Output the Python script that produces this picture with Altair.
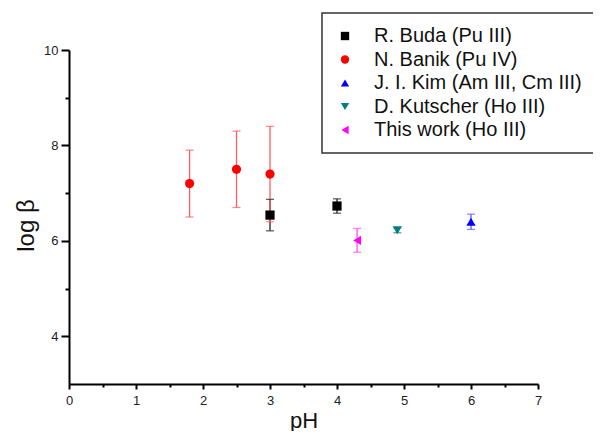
import altair as alt
import pandas as pd

# ---- data ----
series = ["R. Buda (Pu III)", "N. Banik (Pu IV)", "J. I. Kim (Am III, Cm III)",
          "D. Kutscher (Ho III)", "This work (Ho III)"]
colors = ["#000000", "#ff0000", "#0000ff", "#008080", "#ff00ff"]
err_colors = ["#222222", "#ff5c5c", "#5c5cff", "#1a6f6f", "#ff4dff"]
shapes = ["square", "circle", "triangle-up", "triangle-down", "triangle-left"]

buda_ph = [3.0, 4.0]
buda_logb = [6.54, 6.73]
buda_err = [0.33, 0.15]

banik_ph = [1.8, 2.5, 3.0]
banik_logb = [7.2, 7.5, 7.4]
banik_err = [0.7, 0.8, 1.0]

kim_ph = [6.0]
kim_logb = [6.40]
kim_err = [0.16]

kutscher_ph = [4.9]
kutscher_logb = [6.22]
kutscher_err = [0.05]

this_ph = [4.3]
this_logb = [6.01]
this_err = [0.25]

x_major = [0, 1, 2, 3, 4, 5, 6, 7]
x_minor = [0.5, 1.5, 2.5, 3.5, 4.5, 5.5, 6.5]
y_major = [4, 6, 8, 10]
y_minor = [5, 7, 9]

groups = [
    (buda_ph, buda_logb, buda_err),
    (banik_ph, banik_logb, banik_err),
    (kim_ph, kim_logb, kim_err),
    (kutscher_ph, kutscher_logb, kutscher_err),
    (this_ph, this_logb, this_err),
]

rows = []
for name, ecol, (phs, lbs, errs) in zip(series, err_colors, groups):
    for p, b, e in zip(phs, lbs, errs):
        rows.append({"series": name, "ph": p, "logb": b,
                     "lo": b - e, "hi": b + e, "ecolor": ecol})
df = pd.DataFrame(rows)

FONT = "Liberation Sans"

xscale = alt.Scale(domain=[0, 7], nice=False, zero=False)
yscale = alt.Scale(domain=[3, 10], nice=False, zero=False)

xaxis = alt.Axis(
    title="pH", values=x_major, format="d", orient="bottom",
    tickSize=5, labelFontSize=13, labelPadding=5, labelFlush=False,
    titleFontSize=22, titleFontWeight="normal", titleY=43, titleBaseline="alphabetic",
)
yaxis = alt.Axis(
    title="log β", values=y_major, format="d", orient="left",
    tickSize=8, labelFontSize=13, labelPadding=3, labelFlush=False,
    titleFontSize=24, titleFontWeight="normal", titleX=-43, titleY=175, titleAngle=270,
    titleAlign="center", titleBaseline="middle",
)
xaxis_minor = alt.Axis(
    title=None, values=x_minor, orient="bottom", labels=False, domain=False,
    tickSize=3,
)
yaxis_minor = alt.Axis(
    title=None, values=y_minor, orient="left", labels=False, domain=False,
    tickSize=4,
)

base = alt.Chart(df)

# layer that carries the minor ticks only
minor_axes = base.mark_point(opacity=0).encode(
    x=alt.X("ph:Q", scale=xscale, axis=xaxis_minor),
    y=alt.Y("logb:Q", scale=yscale, axis=yaxis_minor),
)

bars = base.mark_rule(strokeWidth=1.3).encode(
    x=alt.X("ph:Q", scale=xscale, axis=None),
    y=alt.Y("lo:Q", scale=yscale, axis=None),
    y2="hi:Q",
    stroke=alt.Stroke("ecolor:N", scale=None),
)

cap_lo = base.mark_tick(orient="horizontal", size=8, thickness=1.3).encode(
    x=alt.X("ph:Q", scale=xscale, axis=None),
    y=alt.Y("lo:Q", scale=yscale, axis=None),
    fill=alt.Fill("ecolor:N", scale=None),
)
cap_hi = base.mark_tick(orient="horizontal", size=8, thickness=1.3).encode(
    x=alt.X("ph:Q", scale=xscale, axis=None),
    y=alt.Y("hi:Q", scale=yscale, axis=None),
    fill=alt.Fill("ecolor:N", scale=None),
)

legend = alt.Legend(
    title=None, orient="none", legendX=253, legendY=-37,
    padding=13, symbolOffset=0, labelFontSize=20, labelLimit=400,
    rowPadding=3.5, symbolSize=70, labelOffset=19,
    strokeColor="#333333", fillColor="white",
)

# the main layer carries the labelled axes
points = base.mark_point(filled=True, size=85, opacity=1).encode(
    x=alt.X("ph:Q", scale=xscale, axis=xaxis),
    y=alt.Y("logb:Q", scale=yscale, axis=yaxis),
    color=alt.Color("series:N", scale=alt.Scale(domain=series, range=colors), legend=legend),
    shape=alt.Shape("series:N", scale=alt.Scale(domain=series, range=shapes), legend=legend),
)

chart = alt.layer(minor_axes, bars, cap_lo, cap_hi, points).resolve_axis(
    x="independent", y="independent"
).properties(
    width=469, height=334,
    autosize=alt.AutoSizeParams(type="none"),
    padding={"left": 61, "top": 42, "right": 55, "bottom": 47},
).configure_view(stroke=None).configure_axis(
    grid=False, domainColor="black", domainWidth=2, tickColor="black", tickWidth=2,
    labelColor="#222222", titleColor="#111111", labelFont=FONT, titleFont=FONT,
    titleFontWeight="normal",
).configure_legend(
    labelFont=FONT, labelColor="#111111", strokeWidth=1.5,
)

chart.save("out.html", embed_options={"renderer": "svg", "actions": False})
